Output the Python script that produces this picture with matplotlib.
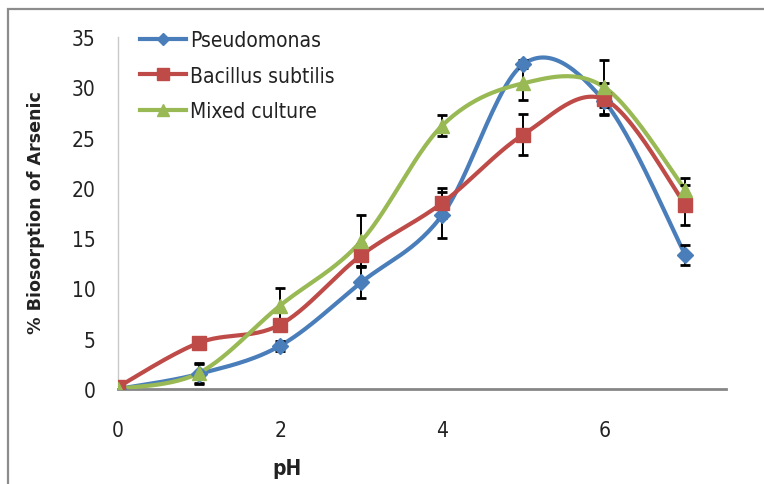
import numpy as np
import matplotlib
matplotlib.use("Agg")
import matplotlib.pyplot as plt
import matplotlib.patches as mpatches
from matplotlib import font_manager as fm

# data
ph = [0, 1, 2, 3, 4, 5, 6, 7]
pseudomonas = [0.0, 1.5, 4.3, 10.6, 17.3, 32.3, 28.6, 13.3]
bacillus = [0.2, 4.6, 6.4, 13.3, 18.5, 25.3, 28.8, 18.3]
mixed = [0.0, 1.6, 8.3, 14.7, 26.2, 30.4, 30.0, 19.8]
pseudomonas_err = [0.0, 1.0, 0.5, 1.6, 2.3, 0.4, 0.6, 1.0]
bacillus_err = [0.0, 0.3, 0.4, 1.1, 1.5, 2.0, 1.6, 2.0]
mixed_err = [0.0, 1.0, 1.7, 2.6, 1.0, 1.7, 2.7, 1.2]
x_ticks = [0, 2, 4, 6]
y_ticks = [0, 5, 10, 15, 20, 25, 30, 35]

W, H = 764, 485

# look for a narrow face (Calibri-like look), fall back to Liberation Sans
narrow = None
narrow_bold = None
for f in fm.fontManager.ttflist:
    if 'Narrow' in f.name or 'Condensed' in f.name or 'condensed' in str(f.stretch):
        if 'Oblique' in f.fname or 'Italic' in f.fname:
            continue
        if 'Bold' in f.fname:
            narrow_bold = narrow_bold or f.fname
        else:
            narrow = narrow or f.fname
if narrow:
    tick_fp = fm.FontProperties(fname=narrow, size=15)
else:
    tick_fp = fm.FontProperties(family='Liberation Sans', size=14)
if narrow_bold:
    ph_fp = fm.FontProperties(fname=narrow_bold, size=15)
else:
    ph_fp = fm.FontProperties(family='Liberation Sans', weight='bold', size=14)


def smooth(x, y, n=30):
    # excel-like smoothed line (catmull-rom bezier)
    x = np.asarray(x, float)
    y = np.asarray(y, float)
    px, py = [], []
    m = len(x)
    for i in range(m - 1):
        i0 = max(i - 1, 0)
        i3 = min(i + 2, m - 1)
        p0 = np.array([x[i0], y[i0]])
        p1 = np.array([x[i], y[i]])
        p2 = np.array([x[i + 1], y[i + 1]])
        p3 = np.array([x[i3], y[i3]])
        b1 = p1 + (p2 - p0) / 6
        b2 = p2 - (p3 - p1) / 6
        t = np.linspace(0, 1, n)[:, None]
        seg = ((1 - t) ** 3) * p1 + 3 * ((1 - t) ** 2) * t * b1 + 3 * (1 - t) * t ** 2 * b2 + t ** 3 * p2
        px.extend(seg[:, 0])
        py.extend(seg[:, 1])
    return np.array(px), np.array(py)


fig = plt.figure(figsize=(W / 100, H / 100), dpi=100)
fig.patches.append(mpatches.Rectangle((8 / W, -0.1), 1.2, 1 - 10 / H + 0.1, transform=fig.transFigure,
                                      fill=False, ec='#8c8c8c', lw=1.6))

ax = fig.add_axes([118 / W, (H - 390) / H, (726 - 118) / W, (390 - 38) / H])

series = [
    ('Pseudomonas', pseudomonas, pseudomonas_err, '#4A7EBB', 'D', 8),
    ('Bacillus subtilis', bacillus, bacillus_err, '#BE4B48', 's', 10),
    ('Mixed culture', mixed, mixed_err, '#98B954', '^', 10),
]
handles = []
for name, vals, err, col, mk, ms in series:
    sx, sy = smooth(ph, vals)
    ax.plot(sx, sy, color=col, lw=3, solid_capstyle='round', zorder=3)
    ax.errorbar(ph, vals, yerr=err, fmt='none', ecolor='black', elinewidth=1.4, capsize=3.5,
                capthick=2, zorder=4)
    ax.plot(ph, vals, ls='none', marker=mk, ms=ms, color=col, mec=col, zorder=5)
    h, = ax.plot([], [], color=col, lw=3, marker=mk, ms=ms * 0.8, mec=col)
    handles.append(h)

ax.set_xlim(0, 7.5)
ax.set_ylim(0, 35)
ax.set_xticks(x_ticks)
ax.set_yticks(y_ticks)
ax.tick_params(length=0, pad=0)
ax.tick_params(axis='y', pad=16)
ax.tick_params(axis='x', pad=22)
for lab in ax.get_xticklabels() + ax.get_yticklabels():
    lab.set_fontproperties(tick_fp)
    lab.set_color('#222222')
for s in ['top', 'right']:
    ax.spines[s].set_visible(False)
ax.spines['left'].set_color('#c8c8c8')
ax.spines['left'].set_linewidth(1)
ax.spines['bottom'].set_color('#868686')
ax.spines['bottom'].set_linewidth(2)

fig.text(36 / W, 1 - 213 / H, '% Biosorption of Arsenic', rotation=90, ha='center', va='center',
         fontsize=12.6, fontweight='bold', family='DejaVu Sans', color='#222222')
fig.text(287 / W, 1 - 469 / H, 'pH', ha='center', va='center',
         fontproperties=ph_fp, color='#222222')

leg = ax.legend(handles, [s[0] for s in series], loc='upper left', bbox_to_anchor=(140 / W, 1 - 31 / H),
                bbox_transform=fig.transFigure, frameon=False, prop=tick_fp,
                handlelength=2.2, handletextpad=0.2, labelspacing=0.75, borderpad=0, borderaxespad=0)
for t in leg.get_texts():
    t.set_color('#222222')

fig.savefig('out.png', dpi=100)
